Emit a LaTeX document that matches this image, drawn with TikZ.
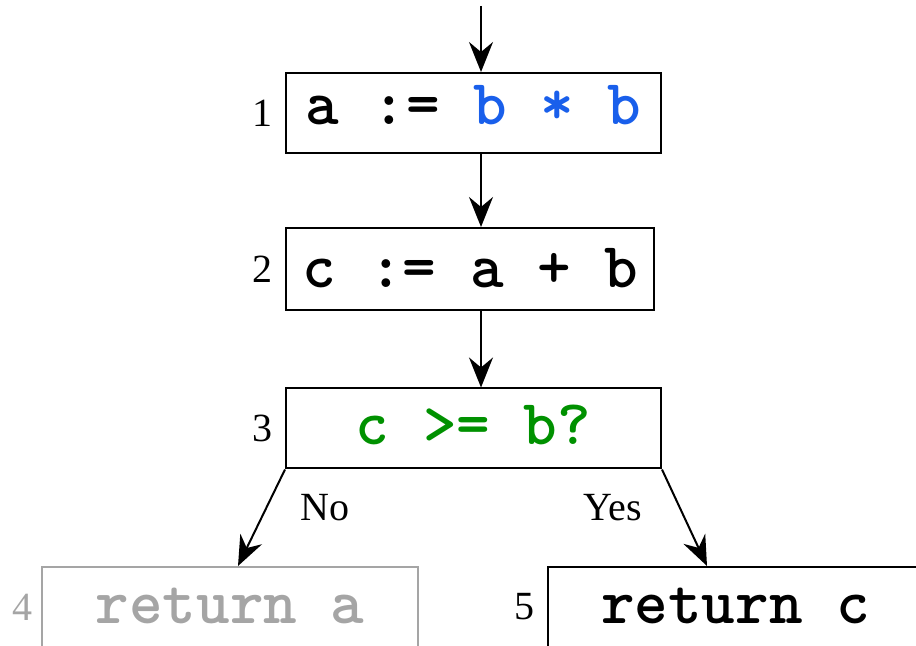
\documentclass[tikz,border=0pt]{standalone}
\usepackage{fontspec}
\setmainfont{Liberation Serif}
\setmonofont{Latin Modern Mono Light}
\usetikzlibrary{arrows.meta,positioning}

\definecolor{varblu}{RGB}{25,95,235}
\definecolor{condverde}{RGB}{0,145,0}
\definecolor{morto}{RGB}{165,165,165}

\begin{document}
\begin{tikzpicture}[x=0.5pt, y=-0.5pt, line width=1pt,
	>={Stealth[length=15pt,width=12pt,inset=5pt]},
	blocco/.style={draw, rectangle, inner sep=0pt,
		minimum width=187.5pt, minimum height=40pt,
		font=\fontsize{32}{34}\selectfont\ttfamily\bfseries,
		text height=19pt, text depth=0pt},
	spento/.style={blocco, draw=morto, text=morto},
	numero/.style={font=\fontsize{20}{22}\selectfont, inner sep=0pt},
	ramo/.style={font=\fontsize{20}{22}\selectfont, inner sep=0pt},
	freccia/.style={->, line width=1pt},
	]
	
	\useasboundingbox (0,0) rectangle (916,646);
	
	%% ── Blocchi ──────────────────────────────────────────────────────────────
	\node[blocco, text height=12pt] (b1) at (473.5,113) {a := \textcolor{varblu}{b * b}};
	\node[blocco, minimum width=184pt, minimum height=41pt] (b2) at (470,269) {c := a + b};
	\node[blocco, text=condverde, text height=16.5pt] (b3) at (473.5,428.5) {c >= b?};
	\node[spento, minimum width=188pt, text height=16pt] (b4) at (230,607) {return a};
	\node[blocco, text height=16pt] (b5) at (735.5,607) {return c};
	
	%% ── Numeri dei blocchi ───────────────────────────────────────────────────
	\node[numero, left=6pt of b1] (n1) {1};
	\node[numero, left=6pt of b2] (n2) {2};
	\node[numero, left=6pt of b3] (n3) {3};
	\node[numero, left=4pt of b4, text=morto] (n4) {4};
	\node[numero, left=6pt of b5] (n5) {5};
	
	%% ── Frecce ───────────────────────────────────────────────────────────────
	\coordinate (ingresso) at (481,6);
	\draw[freccia] (ingresso) -- (ingresso |- b1.north);
	\draw[freccia] (ingresso |- b1.south) -- (ingresso |- b2.north);
	\draw[freccia] (ingresso |- b2.south) -- (ingresso |- b3.north);
	\draw[freccia] (b3.south west) -- ([xshift=98.5pt]b4.north west);
	\draw[freccia] (b3.south east) -- ([xshift=80pt]b5.north west);
	
	%% ── Etichette rami ───────────────────────────────────────────────────────
	\node[ramo] (no) at (325,508) {No};
	\node[ramo] (si) at (613,508) {Yes};
	
\end{tikzpicture}
\end{document}
